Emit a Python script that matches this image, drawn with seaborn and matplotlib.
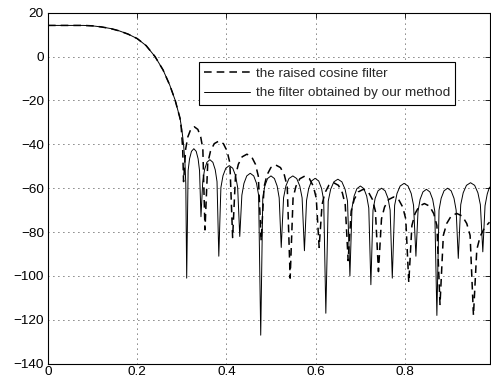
import matplotlib
matplotlib.use("Agg")
import matplotlib.pyplot as plt
import seaborn as sns
import pandas as pd

# ---- data (normalized frequency, magnitude in dB) ----
# shared passband / main lobe
pass_x = [0.0, 0.04, 0.08, 0.10, 0.12, 0.14, 0.16, 0.18, 0.20, 0.22, 0.24,
          0.258, 0.273, 0.285, 0.296]
pass_y = [14.2, 14.2, 14.2, 14.0, 13.5, 12.8, 11.7, 10.2, 8.2, 5.0, 0.0,
          -6.1, -13.0, -19.8, -28.1]

# the filter obtained by our method (solid)
solid_x = [
    0.300, 0.304, 0.307, 0.309,
    0.311, 0.3142, 0.3174, 0.3217, 0.327, 0.3323, 0.3366, 0.3398,
    0.343, 0.347, 0.351, 0.3563, 0.363, 0.3697, 0.375, 0.379,
    0.383, 0.3877, 0.3924, 0.3987, 0.4065, 0.4143, 0.4206, 0.4253,
    0.430, 0.4347, 0.4394, 0.4457, 0.4535, 0.4613, 0.4676, 0.4723,
    0.477, 0.4816, 0.4862, 0.4923, 0.500, 0.5077, 0.5138, 0.5184,
    0.523, 0.5282, 0.5334, 0.5403, 0.549, 0.5577, 0.5646, 0.5698,
    0.575, 0.5798, 0.5846, 0.591, 0.599, 0.607, 0.6134, 0.6182,
    0.623, 0.6284, 0.6338, 0.641, 0.650, 0.659, 0.6662, 0.6716,
    0.677, 0.6817, 0.6864, 0.6927, 0.7005, 0.7083, 0.7146, 0.7193,
    0.724, 0.7288, 0.7336, 0.740, 0.748, 0.756, 0.7624, 0.7672,
    0.772, 0.7773, 0.7826, 0.7897, 0.7985, 0.8073, 0.8144, 0.8197,
    0.825, 0.8297, 0.8344, 0.8407, 0.8485, 0.8563, 0.8626, 0.8673,
    0.872, 0.8768, 0.8816, 0.888, 0.896, 0.904, 0.9104, 0.9152,
    0.920, 0.9255, 0.931, 0.9383, 0.9475, 0.9567, 0.964, 0.9695,
    0.975, 0.980, 0.985, 0.990]
solid_y = [
    -33, -40, -48, -58,
    -101, -52, -46.6, -43.2, -42, -43.2, -46.6, -52,
    -73, -57, -51.6, -48.2, -47, -48.2, -51.6, -57,
    -91, -59.7, -54.3, -50.9, -49.7, -50.9, -54.3, -59.7,
    -82, -63.2, -57.8, -54.4, -53.2, -54.4, -57.8, -63.2,
    -127, -64.4, -59, -55.6, -54.4, -55.6, -59, -64.4,
    -87, -64.4, -59, -55.6, -54.4, -55.6, -59, -64.4,
    -88.5, -65.5, -60.1, -56.7, -55.5, -56.7, -60.1, -65.5,
    -117, -65.9, -60.5, -57.1, -55.9, -57.1, -60.5, -65.9,
    -100, -69, -63.6, -60.2, -59, -60.2, -63.6, -69,
    -104, -70, -64.6, -61.2, -60, -61.2, -64.6, -70,
    -101, -67.8, -62.4, -59, -57.8, -59, -62.4, -67.8,
    -91, -70.5, -65.1, -61.7, -60.5, -61.7, -65.1, -70.5,
    -118, -70, -64.6, -61.2, -60, -61.2, -64.6, -70,
    -92, -67.5, -62.1, -58.7, -57.5, -58.7, -62.1, -67.5,
    -89, -68, -62.6, -59.5]

# the raised cosine filter (dashed)
dashed_x = [
    0.299, 0.302,
    0.304, 0.3088, 0.3136, 0.320, 0.328, 0.336, 0.3424, 0.3472,
    0.352, 0.3582, 0.3644, 0.3727, 0.383, 0.3933, 0.4016, 0.4078,
    0.414, 0.4204, 0.4268, 0.4353, 0.446, 0.4567, 0.4652, 0.4716,
    0.478, 0.4845, 0.491, 0.4997, 0.5105, 0.5213, 0.530, 0.5365,
    0.543, 0.5495, 0.556, 0.5647, 0.5755, 0.5863, 0.595, 0.6015,
    0.608, 0.6145, 0.621, 0.6297, 0.6405, 0.6513, 0.660, 0.6665,
    0.673, 0.6798, 0.6866, 0.6957, 0.707, 0.7183, 0.7274, 0.7342,
    0.741, 0.7478, 0.7546, 0.7637, 0.775, 0.7863, 0.7954, 0.8022,
    0.809, 0.816, 0.823, 0.8323, 0.844, 0.8557, 0.865, 0.872,
    0.879, 0.8865, 0.894, 0.904, 0.9165, 0.929, 0.939, 0.9465,
    0.954, 0.9615, 0.969, 0.979, 0.990]
dashed_y = [
    -33, -42,
    -57, -42, -36.6, -33.2, -32, -33.2, -36.6, -42,
    -79, -48.5, -43.1, -39.7, -38.5, -39.7, -43.1, -48.5,
    -82.5, -54.5, -49.1, -45.7, -44.5, -45.7, -49.1, -54.5,
    -84, -59.4, -54, -50.6, -49.4, -50.6, -54, -59.4,
    -101, -64.5, -59.1, -55.7, -54.5, -55.7, -59.1, -64.5,
    -87, -67.5, -62.1, -58.7, -57.5, -58.7, -62.1, -67.5,
    -93, -70.5, -65.1, -61.7, -60.5, -61.7, -65.1, -70.5,
    -98, -74, -68.6, -65.2, -64, -65.2, -68.6, -74,
    -103, -77, -71.6, -68.2, -67, -68.2, -71.6, -77,
    -113, -81.5, -76.1, -72.7, -71.5, -72.7, -76.1, -81.5,
    -118, -88, -82, -78, -75.5]

labels = ["the raised cosine filter", "the filter obtained by our method"]
x_ticks = [0, 0.2, 0.4, 0.6, 0.8]
x_ticklabels = ["0", "0.2", "0.4", "0.6", "0.8"]
y_ticks = [20, 0, -20, -40, -60, -80, -100, -120, -140]

# ---- build frames ----
df_dash = pd.DataFrame({"f": pass_x + dashed_x, "dB": pass_y + dashed_y})
df_solid = pd.DataFrame({"f": pass_x + solid_x, "dB": pass_y + solid_y})

sns.set_style("white")
plt.rcParams["font.family"] = ["Liberation Sans", "DejaVu Sans"]
plt.rcParams["font.size"] = 9.7

fig = plt.figure(figsize=(4.91, 3.87), dpi=100)
ax = fig.add_axes([48 / 491, 1 - 363.7 / 387, (489.5 - 48) / 491, (363.7 - 12.7) / 387])

sns.lineplot(data=df_dash, x="f", y="dB", ax=ax, color="black", linewidth=1.1,
             estimator=None, sort=False, label=labels[0])
ax.lines[-1].set_linestyle((0, (5, 3.3)))
sns.lineplot(data=df_solid, x="f", y="dB", ax=ax, color="black", linewidth=0.7,
             estimator=None, sort=False, label=labels[1])

ax.set_xlim(0, 0.99)
ax.set_ylim(-140, 20)
ax.set_xticks(x_ticks)
ax.set_xticklabels(x_ticklabels)
ax.set_yticks(y_ticks)
ax.set_xlabel("")
ax.set_ylabel("")

ax.grid(True, color="black", linewidth=0.6, linestyle=(0, (1, 5)))
for s in ax.spines.values():
    s.set_color("black")
    s.set_linewidth(0.8)
ax.tick_params(direction="in", top=True, right=True, length=3.5, width=0.6,
               colors="black", labelsize=9.7)
ax.tick_params(axis="x", pad=2)
ax.tick_params(axis="y", pad=3)

leg = ax.legend(loc="upper left", bbox_to_anchor=(0.342, 0.86), borderaxespad=0,
                frameon=True, fancybox=False, edgecolor="black", framealpha=1,
                handlelength=3.4, handletextpad=0.4, borderpad=0.4,
                labelspacing=0.55, fontsize=9.7)
leg.get_frame().set_linewidth(0.8)

fig.savefig("out.png", dpi=100)
